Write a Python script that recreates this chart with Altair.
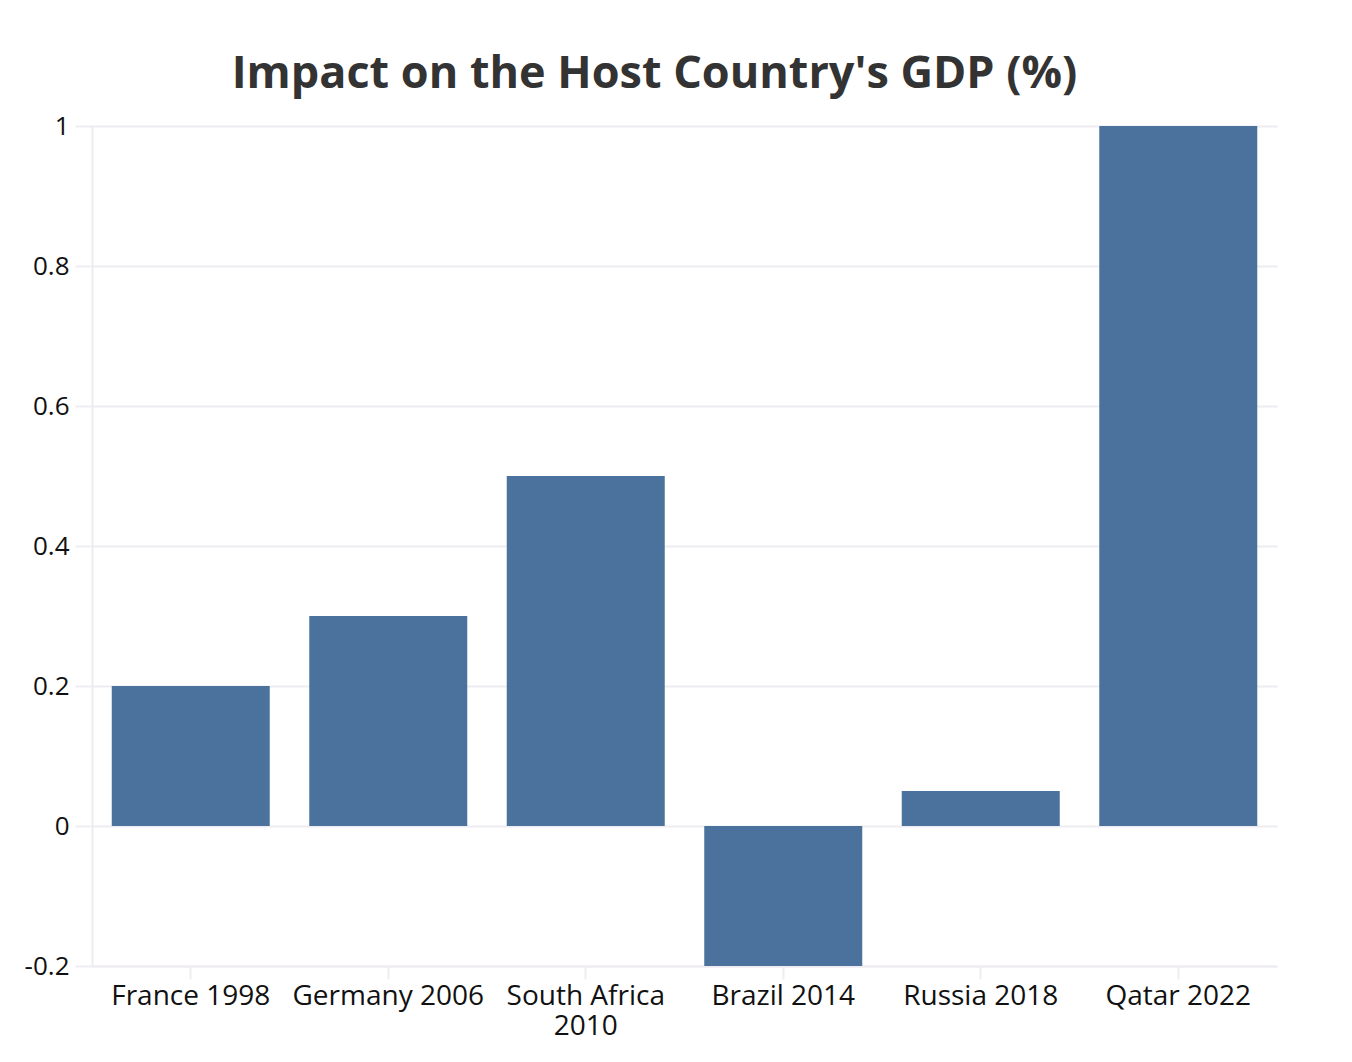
import altair as alt
import pandas as pd

categories = ["France 1998", "Germany 2006", "South Africa 2010", "Brazil 2014", "Russia 2018", "Qatar 2022"]
values = [0.2, 0.3, 0.5, -0.2, 0.05, 1.0]
y_ticks = [-0.2, 0, 0.2, 0.4, 0.6, 0.8, 1.0]

df = pd.DataFrame({"event": categories, "impact": values})

FONT = "Open Sans"
GRID = "#eeecf1"

chart = alt.Chart(df).mark_bar(color="#4a729c").encode(
    x=alt.X(
        "event:N",
        sort=categories,
        title=None,
        scale=alt.Scale(paddingInner=0.2, paddingOuter=0.1),
        axis=alt.Axis(
            labelAngle=0,
            labelFont=FONT,
            labelFontSize=28,
            labelLineHeight=30,
            labelColor="#111111",
            labelPadding=3,
            labelLimit=400,
            labelExpr="length(datum.label) > 16 ? [slice(datum.label, 0, lastindexof(datum.label, ' ')), slice(datum.label, lastindexof(datum.label, ' ') + 1)] : datum.label",
            tickColor=GRID,
            tickSize=13,
            tickWidth=2,
            domainColor=GRID,
            domainWidth=2,
            grid=False,
        ),
    ),
    y=alt.Y(
        "impact:Q",
        title=None,
        scale=alt.Scale(domain=[-0.2, 1.0], nice=False, zero=False),
        axis=alt.Axis(
            values=y_ticks,
            labelExpr="datum.value < 0 ? '-' + format(-datum.value, '~g') : format(datum.value, '~g')",
            labelFont=FONT,
            labelFontSize=26,
            labelColor="#111111",
            labelPadding=6,
            tickColor=GRID,
            tickSize=17,
            tickWidth=2,
            domainColor=GRID,
            domainWidth=2,
            gridColor=GRID,
            gridWidth=2,
        ),
    ),
).properties(
    width=1185,
    height=840,
    autosize=alt.AutoSizeParams(type="none"),
    padding={"left": 84, "top": 118, "right": 60, "bottom": 80},
    title=alt.TitleParams(
        "Impact on the Host Country's GDP (%)",
        font=FONT,
        fontSize=45,
        fontWeight="bold",
        color="#333333",
        anchor="middle",
        baseline="alphabetic",
        offset=38,
        dx=-30,
        dy=58,
    ),
).configure_view(stroke=None)

chart.save("out.html", embed_options={"renderer": "svg", "actions": False})
